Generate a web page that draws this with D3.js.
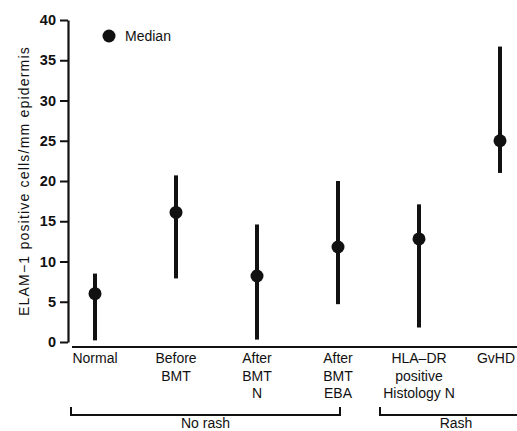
<!DOCTYPE html>
<html>
<head>
<meta charset="utf-8">
<script src="https://cdn.jsdelivr.net/npm/d3@7"></script>
<style>
  body { margin: 0; background: #fff; }
  text { font-family: "Liberation Sans", Arial, sans-serif; fill: #111; }
</style>
</head>
<body>
<div id="chart"></div>
<script>
var groups = ["Normal", "Before BMT", "After BMT N", "After BMT EBA", "HLA-DR Histology N", "GvHD"];
var groupLabels = [["Normal"], ["Before", "BMT"], ["After", "BMT", "N"], ["After", "BMT", "EBA"], ["HLA\u2013DR", "positive", "Histology N"], ["GvHD"]];
var medians = [6.0, 16.1, 8.2, 11.8, 12.8, 25.0];
var lows = [0.2, 7.9, 0.3, 4.7, 1.8, 21.0];
var highs = [8.5, 20.7, 14.6, 20.0, 17.1, 36.7];
var yTicks = [0, 5, 10, 15, 20, 25, 30, 35, 40];
var brackets = [
  {label: "No rash", from: "Normal", to: "After BMT EBA"},
  {label: "Rash", from: "HLA-DR Histology N", to: "GvHD"}
];

var width = 517, height = 431;

var svg = d3.select("#chart")
  .append("svg")
  .attr("width", width)
  .attr("height", height);

var x = d3.scalePoint()
  .domain(groups)
  .range([95, 500]);

var y = d3.scaleLinear()
  .domain([0, 40])
  .range([342, 20]);

// y axis
var yAxis = svg.append("g")
  .attr("transform", "translate(68,0)")
  .call(d3.axisLeft(y).tickValues(yTicks).tickSize(8).tickSizeOuter(0));
yAxis.select(".domain").attr("stroke", "#111").attr("stroke-width", 2.2);
yAxis.selectAll(".tick line").attr("stroke", "#111").attr("stroke-width", 2);
yAxis.selectAll(".tick text")
  .attr("x", -12)
  .style("font-size", "14.5px")
  .style("font-weight", "bold")
  .style("font-family", "'Liberation Sans', Arial, sans-serif")
  .attr("fill", "#111");

svg.append("text")
  .attr("transform", "translate(29," + y(20) + ") rotate(-90)")
  .attr("text-anchor", "middle")
  .style("font-size", "14px")
  .style("letter-spacing", "1.2px")
  .text("ELAM\u22121 positive cells/mm epidermis");

// x axis line
svg.append("line")
  .attr("x1", 72).attr("x2", width)
  .attr("y1", 347).attr("y2", 347)
  .attr("stroke", "#111")
  .attr("stroke-width", 2.2);

// ranges
svg.selectAll(".range")
  .data(groups)
  .enter().append("line")
  .attr("class", "range")
  .attr("x1", function(d) { return x(d); })
  .attr("x2", function(d) { return x(d); })
  .attr("y1", function(d, i) { return y(lows[i]); })
  .attr("y2", function(d, i) { return y(highs[i]); })
  .attr("stroke", "#111")
  .attr("stroke-width", 4);

svg.selectAll(".median")
  .data(groups)
  .enter().append("circle")
  .attr("class", "median")
  .attr("cx", function(d) { return x(d); })
  .attr("cy", function(d, i) { return y(medians[i]); })
  .attr("r", 6.5)
  .attr("fill", "#111");

// category labels
var labels = svg.selectAll(".cat")
  .data(groups)
  .enter().append("text")
  .attr("class", "cat")
  .attr("text-anchor", "middle")
  .attr("y", 363)
  .style("font-size", "14px");
labels.selectAll("tspan")
  .data(function(d, i) { return groupLabels[i].map(function(t) { return {t: t, g: d}; }); })
  .enter().append("tspan")
  .attr("x", function(d) { return x(d.g); })
  .attr("dy", function(d, i) { return i === 0 ? 0 : 17.5; })
  .text(function(d) { return d.t; });
// keep the last label inside the window
labels.selectAll("tspan").each(function(d) {
  var w = this.getComputedTextLength();
  var cx = x(d.g);
  if (cx + w / 2 > width - 2) d3.select(this).attr("x", width - 2 - w / 2);
});

// brackets
brackets.forEach(function(b) {
  var x0 = x(b.from) - 24, x1 = x(b.to) + 2;
  if (b.to === "GvHD") { x0 = x(b.from) - 39; x1 = width + 20; }
  svg.append("path")
    .attr("d", "M" + x0 + ",407 V415 H" + x1 + " V407")
    .attr("fill", "none")
    .attr("stroke", "#111")
    .attr("stroke-width", 2);
  svg.append("text")
    .attr("x", b.to === "GvHD" ? 456 : (x0 + x1) / 2)
    .attr("y", 428)
    .attr("text-anchor", "middle")
    .style("font-size", "14px")
    .text(b.label);
});

// legend
svg.append("circle")
  .attr("cx", 109).attr("cy", 36).attr("r", 6.5)
  .attr("fill", "#111");
svg.append("text")
  .attr("x", 125).attr("y", 41)
  .style("font-size", "14px")
  .text("Median");
</script>
</body>
</html>
